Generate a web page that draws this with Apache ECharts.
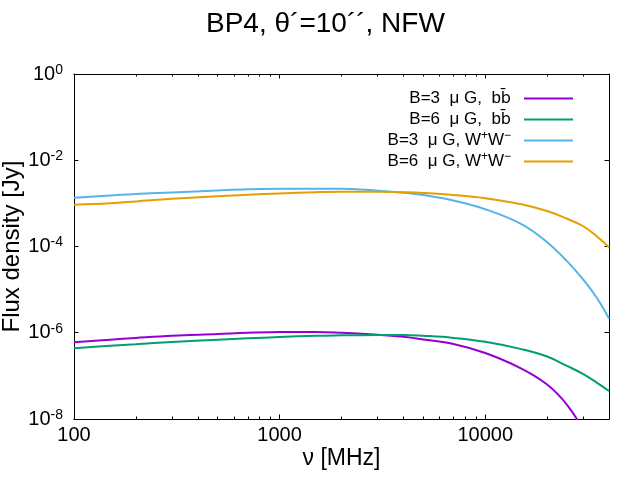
<!DOCTYPE html>
<html>
<head>
<meta charset="utf-8">
<script src="https://cdn.jsdelivr.net/npm/echarts@6/dist/echarts.min.js"></script>
<style>
  html, body { margin: 0; padding: 0; background: #fff; }
  #chart { width: 640px; height: 480px; }
</style>
</head>
<body>
<div id="chart"></div>
<script>
// ---- data ----
const freqMHz = [100, 150, 200, 300, 500, 700, 1000, 1500, 2000, 3000, 4000, 5000, 7000, 10000, 15000, 20000, 25000, 30000, 35000, 40000];

const fluxB3bb = [6.03e-7, 6.92e-7, 7.59e-7, 8.51e-7, 9.33e-7, 1.0e-6, 1.035e-6, 1.047e-6, 1.0e-6, 9.02e-7, 8.04e-7, 7.0e-7, 5.5e-7, 3.39e-7, 1.48e-7, 6.3e-8, 2.14e-8, 5.6e-9, 1.26e-9, 2.5e-10];
const fluxB6bb = [4.37e-7, 5.01e-7, 5.43e-7, 6.1e-7, 6.92e-7, 7.41e-7, 7.94e-7, 8.51e-7, 8.71e-7, 8.91e-7, 8.91e-7, 8.51e-7, 7.59e-7, 6.17e-7, 4.17e-7, 2.82e-7, 1.70e-7, 1.10e-7, 6.9e-8, 4.47e-8];
const fluxB3WW = [1.35e-3, 1.52e-3, 1.66e-3, 1.79e-3, 1.99e-3, 2.12e-3, 2.19e-3, 2.19e-3, 2.19e-3, 1.97e-3, 1.77e-3, 1.56e-3, 1.17e-3, 7.33e-4, 3.31e-4, 1.26e-4, 4.57e-5, 1.70e-5, 6.3e-6, 2.14e-6];
const fluxB6WW = [9.33e-4, 1.01e-3, 1.109e-3, 1.274e-3, 1.462e-3, 1.585e-3, 1.698e-3, 1.816e-3, 1.862e-3, 1.862e-3, 1.81e-3, 1.74e-3, 1.567e-3, 1.318e-3, 9.55e-4, 6.64e-4, 4.40e-4, 2.95e-4, 1.70e-4, 9.55e-5];

const seriesNames = ['B=3 μG, bb', 'B=6 μG, bb', 'B=3 μG, WW', 'B=6 μG, WW'];
const seriesFlux = [fluxB3bb, fluxB6bb, fluxB3WW, fluxB6WW];
const seriesColors = ['#9400d3', '#009e73', '#56b4e9', '#e69f00'];
const legendTexts = [
  '{t|B=3  μ G,  b}{o|b̄}',
  '{t|B=6  μ G,  b}{o|b̄}',
  '{t|B=3  μ G, W}{s|+}{t|W}{s|−}',
  '{t|B=6  μ G, W}{s|+}{t|W}{s|−}'
];

const xMin = 100, xMax = 40000;
const yMin = 1e-8, yMax = 1;
const xMajorTicks = [100, 1000, 10000];
const xMinorTicks = [200, 300, 400, 500, 600, 700, 800, 900, 2000, 3000, 4000, 5000, 6000, 7000, 8000, 9000, 20000, 30000];
const yMajorTicks = [1, 1e-2, 1e-4, 1e-6, 1e-8];

const titleText = 'BP4, θ´=10´´, NFW';
const xName = 'ν [MHz]';
const yName = 'Flux density [Jy]';

// ---- chart ----
const FONT = 'Liberation Sans';
const chart = echarts.init(document.getElementById('chart'), null, { renderer: 'canvas' });

function xAxisDef(position, ticks, tickLen, showLabels) {
  return {
    type: 'log', logBase: 10, min: xMin, max: xMax, position: position,
    axisLine: { show: true, lineStyle: { color: '#000', width: 1 } },
    axisTick: { show: true, inside: true, length: tickLen, customValues: ticks, lineStyle: { color: '#000', width: 1 } },
    axisLabel: showLabels ? {
      show: true, customValues: xMajorTicks, margin: 6, color: '#000',
      fontFamily: FONT, fontSize: 20, formatter: v => String(Math.round(v))
    } : { show: false },
    splitLine: { show: false },
    minorTick: { show: false },
    name: showLabels ? xName : '',
    nameLocation: 'middle', nameGap: 28, nameMoveOverlap: false,
    nameTextStyle: { fontFamily: FONT, fontSize: 23, color: '#000' }
  };
}

function yAxisDef(position, showLabels) {
  return {
    type: 'log', logBase: 10, min: yMin, max: yMax, position: position,
    axisLine: { show: true, lineStyle: { color: '#000', width: 1 } },
    axisTick: { show: true, inside: true, length: 4.5, customValues: yMajorTicks, lineStyle: { color: '#000', width: 1 } },
    axisLabel: showLabels ? {
      show: true, customValues: yMajorTicks, margin: 11, color: '#000',
      formatter: v => '{b|10}{s|' + Math.round(Math.log10(v)) + '}',
      rich: {
        b: { fontFamily: FONT, fontSize: 20, lineHeight: 22, color: '#000' },
        s: { fontFamily: FONT, fontSize: 14, lineHeight: 14, verticalAlign: 'top', color: '#000' }
      }
    } : { show: false },
    splitLine: { show: false },
    name: showLabels ? yName : '',
    nameLocation: 'middle', nameRotate: 90, nameGap: 50, nameMoveOverlap: false,
    nameTextStyle: { fontFamily: FONT, fontSize: 24, color: '#000' }
  };
}

const option = {
  backgroundColor: '#fff',
  animation: false,
  title: {
    text: titleText, left: 201, top: 5,
    textStyle: { fontFamily: FONT, fontSize: 28, fontWeight: 'normal', color: '#000' }
  },
  grid: { left: 74, right: 31, top: 74, bottom: 61, containLabel: false, outerBoundsMode: 'none' },
  legend: {
    orient: 'vertical', right: 62, top: 83, align: 'right',
    icon: 'rect', itemWidth: 49, itemHeight: 2, itemGap: 0,
    data: seriesNames,
    formatter: name => legendTexts[seriesNames.indexOf(name)],
    textStyle: {
      fontFamily: FONT, fontSize: 17, lineHeight: 21, color: '#000', padding: [0, 8, 0, 0],
      rich: {
        t: { fontFamily: FONT, fontSize: 17, lineHeight: 21, color: '#000' },
        o: { fontFamily: 'DejaVu Sans', fontSize: 16, lineHeight: 21, color: '#000' },
        s: { fontFamily: FONT, fontSize: 12, lineHeight: 12, verticalAlign: 'top', color: '#000' }
      }
    }
  },
  xAxis: [
    xAxisDef('bottom', xMajorTicks, 4.5, true),
    xAxisDef('bottom', xMinorTicks, 2.5, false),
    xAxisDef('top', xMajorTicks, 4.5, false),
    xAxisDef('top', xMinorTicks, 2.5, false)
  ],
  yAxis: [
    yAxisDef('left', true),
    yAxisDef('right', false)
  ],
  series: seriesNames.map((name, i) => ({
    name: name,
    type: 'line',
    xAxisIndex: 0, yAxisIndex: 0,
    showSymbol: false,
    smooth: 0.4,
    clip: true,
    color: seriesColors[i],
    lineStyle: { color: seriesColors[i], width: 2 },
    data: freqMHz.map((f, k) => [f, seriesFlux[i][k]])
  }))
};

chart.setOption(option);
</script>
</body>
</html>
